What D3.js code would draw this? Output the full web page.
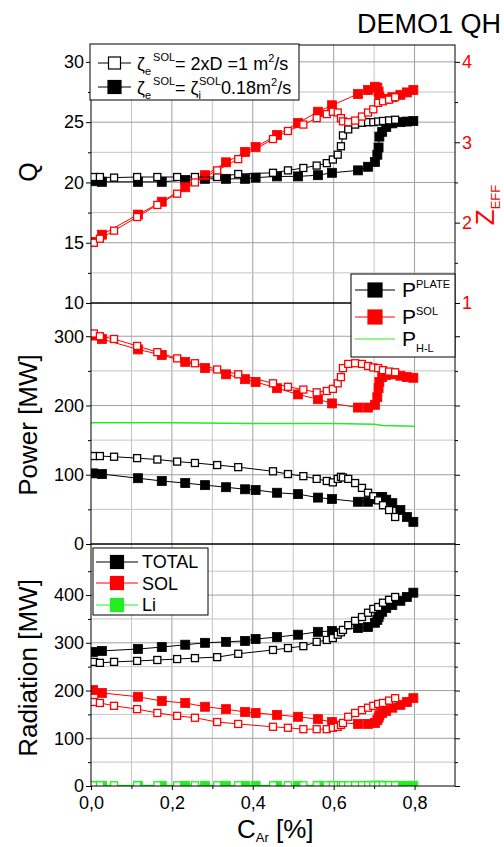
<!DOCTYPE html>
<html>
<head>
<meta charset="utf-8">
<script src="https://cdn.jsdelivr.net/npm/d3@7"></script>
<style>
  body { margin: 0; background: #fff; }
  svg { font-family: "Liberation Sans", Arial, sans-serif; }
</style>
</head>
<body>
<svg id="chart" width="504" height="847"></svg>
<script>
// Ar concentration (%) of the two scans
const cFilled = [0.005, 0.027, 0.116, 0.175, 0.233, 0.282, 0.334, 0.381, 0.407, 0.46, 0.512, 0.561, 0.596, 0.66, 0.685, 0.702, 0.708, 0.711, 0.713, 0.72, 0.73, 0.745, 0.765, 0.781, 0.797];
const cOpen = [0.007, 0.022, 0.057, 0.114, 0.164, 0.213, 0.257, 0.312, 0.364, 0.45, 0.487, 0.525, 0.558, 0.583, 0.598, 0.61, 0.618, 0.623, 0.636, 0.653, 0.67, 0.685, 0.698, 0.71, 0.722, 0.737, 0.752];

// top panel: Q and Zeff
const qFilled = [20.1, 20.05, 20.05, 20.05, 20.2, 20.3, 20.3, 20.3, 20.4, 20.5, 20.5, 20.6, 20.8, 21.0, 21.3, 21.7, 22.3, 22.9, 23.8, 24.2, 24.6, 24.9, 25.0, 25.05, 25.1];
const qOpen = [20.45, 20.45, 20.4, 20.45, 20.45, 20.45, 20.45, 20.45, 20.7, 20.8, 21.0, 21.2, 21.4, 21.6, 21.9, 22.3, 23.0, 23.9, 24.4, 24.8, 24.95, 25.0, 25.0, 25.05, 25.1, 25.15, 25.2];
const zeffFilled = [1.76, 1.85, 2.1, 2.26, 2.44, 2.59, 2.75, 2.88, 2.94, 3.09, 3.24, 3.38, 3.46, 3.6, 3.65, 3.69, 3.68, 3.63, 3.57, 3.54, 3.54, 3.56, 3.59, 3.62, 3.65];
const zeffOpen = [1.75, 1.8, 1.9, 2.07, 2.22, 2.36, 2.5, 2.65, 2.79, 3.04, 3.14, 3.22, 3.3, 3.35, 3.38, 3.37, 3.3, 3.26, 3.25, 3.27, 3.32, 3.37, 3.41, 3.49, 3.51, 3.53, 3.56];

// middle panel: power (MW)
const pPlateFilled = [102, 101, 95, 91, 88, 85, 82, 79, 78, 74, 72, 67, 65, 61, 61, 65, 66, 67, 68, 68, 64, 59, 49, 39, 32];
const pPlateOpen = [127, 127, 126, 124, 122, 119, 117, 114, 111, 105, 101, 98, 94, 91, 89, 94, 97, 96, 94, 88, 81, 74, 69, 63, 56, 49, 39];
const pSolFilled = [301, 296, 281, 273, 263, 254, 245, 238, 234, 225, 216, 209, 203, 197, 197, 201, 212, 225, 234, 241, 244, 245, 243, 241, 240];
const pSolOpen = [304, 300, 296, 286, 277, 268, 261, 252, 245, 232, 227, 223, 219, 221, 224, 232, 241, 254, 260, 261, 260, 257, 255, 254, 251, 249, 248];
const cHL = [0, 0.2, 0.4, 0.6, 0.7, 0.72, 0.8];
const pHL = [175, 175, 174, 174, 173, 171, 170];

// bottom panel: radiation (MW)
const radTotalFilled = [281, 283, 287, 291, 296, 300, 302, 304, 308, 312, 317, 323, 325, 331, 333, 342, 348, 354, 360, 365, 373, 379, 388, 396, 405];
const radTotalOpen = [260, 258, 260, 262, 264, 266, 268, 270, 277, 285, 289, 293, 302, 306, 310, 317, 322, 327, 337, 346, 354, 363, 371, 375, 384, 390, 396];
const radSolFilled = [201, 195, 187, 178, 174, 166, 161, 155, 153, 149, 145, 140, 134, 130, 130, 132, 138, 143, 148, 153, 157, 164, 170, 176, 184];
const radSolOpen = [176, 174, 168, 161, 153, 147, 143, 134, 130, 124, 122, 119, 119, 119, 122, 124, 128, 132, 145, 153, 159, 164, 168, 172, 174, 179, 184];
const liFilled = [0.5, 0.5, 0.5, 0.5, 0.5, 0.5, 0.5, 0.5, 0.5, 0.5, 0.5, 0.5, 0.5, 0.5, 0.5, 0.5, 0.5, 0.5, 0.5, 0.5, 0.5, 0.5, 0.5, 0.5, 0.5];
const liOpen = [1.5, 1.5, 1.5, 1.5, 1.5, 1.5, 1.5, 1.5, 1.5, 1.5, 1.5, 1.5, 1.5, 1.5, 1.5, 1.5, 1.5, 1.5, 1.5, 1.5, 1.5, 1.5, 1.5, 1.5, 1.5, 1.5, 1.5];

// ticks
const xMajor = [0, 0.2, 0.4, 0.6, 0.8];
const xMinor = [0.1, 0.3, 0.5, 0.7];
const qMajor = [10, 15, 20, 25, 30];
const qMinor = [12.5, 17.5, 22.5, 27.5];
const zeffMajor = [1, 2, 3, 4];
const zeffMinor = [1.5, 2.5, 3.5];
const pMajor = [0, 100, 200, 300];
const pMinor = [50, 150, 250];
const radMajor = [0, 100, 200, 300, 400];
const radMinor = [50, 150, 250, 350, 450];

const RED = "#ff0000", GREEN = "#22ee22", BLACK = "#000";

const svg = d3.select("#chart");
const x = d3.scaleLinear().domain([0, 0.9]).range([91, 455]);
const xLeft = 91, xRight = 455;

const yQ = d3.scaleLinear().domain([10, 31.4]).range([303, 45]);
const yZ = d3.scaleLinear().domain([1, 4.21]).range([303, 45]);
const yP = d3.scaleLinear().domain([0, 348]).range([544, 303]);
const yR = d3.scaleLinear().domain([0, 507]).range([786, 544]);

const comma = (d) => d3.format(".1f")(d).replace(".", ",");

// grid + clip for a panel
function panel(id, y, major, minor) {
  const [bottom, top] = y.range();
  const g = svg.append("g");
  g.append("clipPath").attr("id", id)
    .append("rect").attr("x", xLeft).attr("y", top).attr("width", xRight - xLeft).attr("height", bottom - top);
  // vertical grid
  g.selectAll(".vg").data(xMajor.concat(xMinor).filter((d) => d > 0))
    .join("line")
    .attr("x1", (d) => x(d)).attr("x2", (d) => x(d))
    .attr("y1", top).attr("y2", bottom)
    .attr("stroke", (d) => xMajor.includes(d) ? "#a0a0a0" : "#c4c4c4").attr("stroke-width", 1);
  // horizontal grid
  g.selectAll(".hg").data(major.concat(minor).filter((d) => y(d) < bottom - 0.5 && y(d) > top + 0.5))
    .join("line")
    .attr("x1", xLeft).attr("x2", xRight)
    .attr("y1", (d) => y(d)).attr("y2", (d) => y(d))
    .attr("stroke", (d) => major.includes(d) ? "#a0a0a0" : "#c4c4c4").attr("stroke-width", 1);
  return g;
}

function axisY(y, major, minor, side, labels, color) {
  const ax = side === "left" ? d3.axisLeft : d3.axisRight;
  const pos = side === "left" ? xLeft : xRight;
  const g = svg.append("g").attr("transform", `translate(${pos},0)`);
  g.append("g").call(ax(y).tickValues(major).tickSize(5).tickPadding(2)
      .tickFormat(labels ? d3.format("d") : ""))
    .call((s) => s.select(".domain").remove())
    .call((s) => s.selectAll("line").attr("stroke", BLACK))
    .call((s) => s.selectAll("text").attr("font-size", 18).attr("font-family", "Liberation Sans, Arial, sans-serif").attr("fill", color));
  g.append("g").call(ax(y).tickValues(minor).tickSize(3).tickFormat(""))
    .call((s) => s.select(".domain").remove())
    .call((s) => s.selectAll("line").attr("stroke", BLACK));
}

function series(clipId, cs, vs, y, color, filled, size) {
  const g = svg.append("g").attr("clip-path", `url(#${clipId})`);
  const pts = cs.map((c, i) => [c, vs[i]]);
  g.append("path").datum(pts)
    .attr("d", d3.line().x((d) => x(d[0])).y((d) => y(d[1])))
    .attr("fill", "none").attr("stroke", color).attr("stroke-width", 1);
  g.selectAll("rect").data(pts).join("rect")
    .attr("x", (d) => x(d[0]) - size / 2).attr("y", (d) => y(d[1]) - size / 2)
    .attr("width", size).attr("height", size)
    .attr("fill", filled ? color : "#fff")
    .attr("stroke", color).attr("stroke-width", filled ? 0.8 : 1.3);
}

// panels
panel("clipTop", yQ, qMajor, qMinor);
panel("clipMid", yP, pMajor, pMinor);
panel("clipBot", yR, radMajor, radMinor);

// top panel series
series("clipTop", cFilled, qFilled, yQ, BLACK, true, 9);
series("clipTop", cFilled, zeffFilled, yZ, RED, true, 9);
series("clipTop", cOpen, qOpen, yQ, BLACK, false, 7);
series("clipTop", cOpen, zeffOpen, yZ, RED, false, 7);

// middle panel series
series("clipMid", cFilled, pPlateFilled, yP, BLACK, true, 9);
series("clipMid", cFilled, pSolFilled, yP, RED, true, 9);
series("clipMid", cOpen, pPlateOpen, yP, BLACK, false, 7);
series("clipMid", cOpen, pSolOpen, yP, RED, false, 7);
svg.append("path").datum(cHL.map((c, i) => [c, pHL[i]]))
  .attr("d", d3.line().x((d) => x(d[0])).y((d) => yP(d[1])))
  .attr("fill", "none").attr("stroke", GREEN).attr("stroke-width", 1.5);

// bottom panel series
series("clipBot", cFilled, radTotalFilled, yR, BLACK, true, 9);
series("clipBot", cFilled, radSolFilled, yR, RED, true, 9);
series("clipBot", cOpen, radTotalOpen, yR, BLACK, false, 7);
series("clipBot", cOpen, radSolOpen, yR, RED, false, 7);
series("clipBot", cFilled, liFilled, yR, GREEN, true, 9);
series("clipBot", cOpen, liOpen, yR, GREEN, false, 7);

// frames
[yQ, yP, yR].forEach((y) => {
  const [bottom, top] = y.range();
  svg.append("rect").attr("x", xLeft).attr("y", top).attr("width", xRight - xLeft).attr("height", bottom - top)
    .attr("fill", "none").attr("stroke", BLACK).attr("stroke-width", 1);
});

// axes
axisY(yQ, qMajor, qMinor, "left", true, BLACK);
axisY(yZ, zeffMajor, zeffMinor, "right", true, RED);
axisY(yP, pMajor, pMinor, "left", true, BLACK);
axisY(yP, pMajor, pMinor, "right", false, BLACK);
axisY(yR, radMajor, radMinor, "left", true, BLACK);
axisY(yR, radMajor, radMinor, "right", false, BLACK);

const xAx = svg.append("g").attr("transform", "translate(0,786)");
xAx.append("g").call(d3.axisBottom(x).tickValues(xMajor).tickSize(4).tickPadding(6).tickFormat(comma))
  .call((s) => s.select(".domain").remove())
  .call((s) => s.selectAll("text").attr("font-size", 18).attr("font-family", "Liberation Sans, Arial, sans-serif"));
xAx.append("g").call(d3.axisBottom(x).tickValues(xMinor).tickSize(3).tickFormat(""))
  .call((s) => s.select(".domain").remove());

// title and axis labels
svg.append("text").attr("x", 501).attr("y", 33).attr("text-anchor", "end")
  .attr("font-size", 27).text("DEMO1 QH");

function yLabel(cx, cy, txt, size) {
  return svg.append("text").attr("transform", `translate(${cx},${cy}) rotate(-90)`)
    .attr("text-anchor", "middle").attr("font-size", size).attr("fill", BLACK).text(txt);
}
yLabel(37, 172, "Q", 25);
yLabel(37, 425, "Power [MW]", 26);
yLabel(37, 668, "Radiation [MW]", 26);

const zl = svg.append("text").attr("transform", "translate(494,205) rotate(-90)")
  .attr("text-anchor", "middle").attr("font-size", 26).attr("fill", RED);
zl.append("tspan").text("Z");
zl.append("tspan").attr("font-size", 13).attr("dy", 6).text("EFF");

const xl = svg.append("text").attr("x", 237).attr("y", 838).attr("font-size", 26);
xl.append("tspan").text("C");
xl.append("tspan").attr("font-size", 13).attr("dy", 4).text("Ar");
xl.append("tspan").attr("dy", -4).text(" [%]");

// legends
function legendBox(x0, y0, w, h) {
  svg.append("rect").attr("x", x0).attr("y", y0).attr("width", w).attr("height", h)
    .attr("fill", "#fff").attr("stroke", BLACK).attr("stroke-width", 1);
}
function legendMark(x1, x2, y, color, filled, size) {
  svg.append("line").attr("x1", x1).attr("x2", x2).attr("y1", y).attr("y2", y)
    .attr("stroke", color).attr("stroke-width", 1.2);
  if (size) {
    const xm = (x1 + x2) / 2;
    svg.append("rect").attr("x", xm - size / 2).attr("y", y - size / 2).attr("width", size).attr("height", size)
      .attr("fill", filled ? color : "#fff").attr("stroke", color).attr("stroke-width", 1.2);
  }
}

// top legend
legendBox(90, 44, 209, 56);
legendMark(98, 131, 63, BLACK, false, 12);
legendMark(98, 131, 87, BLACK, true, 13);
const t1 = svg.append("text").attr("x", 137).attr("y", 70).attr("font-size", 18);
t1.append("tspan").text("ζ");
t1.append("tspan").attr("font-size", 11).attr("dy", 5).text("e");
t1.append("tspan").attr("font-size", 11).attr("dy", -14).attr("dx", 2).text("SOL");
t1.append("tspan").attr("dy", 9).text("= 2xD =1 m");
t1.append("tspan").attr("font-size", 11).attr("dy", -8).text("2");
t1.append("tspan").attr("dy", 8).text("/s");
const t2 = svg.append("text").attr("x", 137).attr("y", 94).attr("font-size", 18);
t2.append("tspan").text("ζ");
t2.append("tspan").attr("font-size", 11).attr("dy", 5).text("e");
t2.append("tspan").attr("font-size", 11).attr("dy", -14).attr("dx", 2).text("SOL");
t2.append("tspan").attr("dy", 9).text("= ζ");
t2.append("tspan").attr("font-size", 11).attr("dy", 5).text("i");
t2.append("tspan").attr("font-size", 11).attr("dy", -14).attr("dx", -2).text("SOL");
t2.append("tspan").attr("dy", 9).text("0.18m");
t2.append("tspan").attr("font-size", 11).attr("dy", -8).text("2");
t2.append("tspan").attr("dy", 8).text("/s");

// middle legend
legendBox(351, 274, 104, 83);
legendMark(355, 395, 290, BLACK, true, 14);
legendMark(355, 395, 317, RED, true, 14);
legendMark(355, 395, 339, GREEN, false, 0);
[["PLATE", 297], ["SOL", 324]].forEach(([s, yy]) => {
  const t = svg.append("text").attr("x", 402).attr("y", yy).attr("font-size", 21);
  t.append("tspan").text("P");
  t.append("tspan").attr("font-size", 11).attr("dy", -9).text(s);
});
const th = svg.append("text").attr("x", 402).attr("y", 346).attr("font-size", 21);
th.append("tspan").text("P");
th.append("tspan").attr("font-size", 11).attr("dy", 6).text("H-L");

// bottom legend
legendBox(93, 548, 115, 67);
legendMark(96, 138, 562, BLACK, true, 13);
legendMark(96, 138, 583, RED, true, 13);
legendMark(96, 138, 605, GREEN, true, 13);
[["TOTAL", 568], ["SOL", 590], ["Li", 611]].forEach(([s, yy]) => {
  svg.append("text").attr("x", 142).attr("y", yy).attr("font-size", 18).text(s);
});
</script>
</body>
</html>
